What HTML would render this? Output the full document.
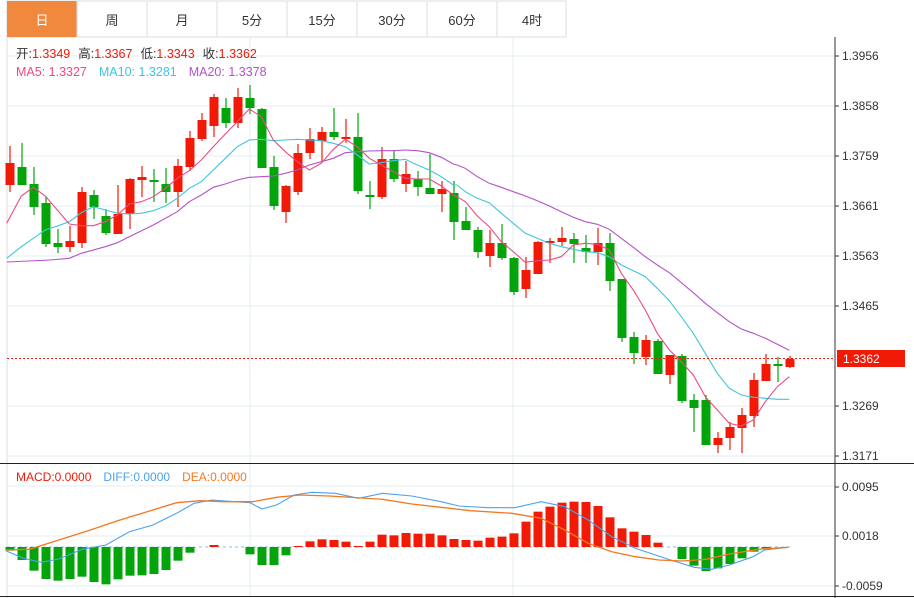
<!DOCTYPE html>
<html><head><meta charset="utf-8"><style>
html,body{margin:0;padding:0;background:#fff;width:914px;height:598px;overflow:hidden;font-family:"Liberation Sans","Noto Sans CJK SC",sans-serif}
svg{position:absolute;left:0;top:0}
</style></head><body>
<svg id="s" width="914" height="598" xmlns="http://www.w3.org/2000/svg" font-family="Liberation Sans, Noto Sans CJK SC, sans-serif"></svg>
<script>
const s=document.getElementById('s');let h='';
// tabs
h+='<rect x="7" y="1" width="559" height="36" fill="#fff" stroke="#ddd"/>';
const tabs=['日','周','月','5分','15分','30分','60分','4时'];
tabs.forEach((t,i)=>{const x=7+i*70;
 if(i==0)h+=`<rect x="7" y="1" width="70" height="36" fill="#f0883e"/>`;
 else h+=`<line x1="${x}" y1="1" x2="${x}" y2="37" stroke="#ddd"/>`;
 h+=`<text x="${x+35}" y="25" font-size="13" text-anchor="middle" fill="${i==0?'#fff':'#333'}">${t}</text>`;});
h+='<line x1="7" y1="37" x2="7" y2="598" stroke="#ddd"/>';
// grid
[56,106,156,206,256,306,356,406,456,486,536,586].forEach(y=>h+=`<line x1="7" y1="${y}" x2="835" y2="${y}" stroke="#e3ecf3"/>`);
[250,513].forEach(x=>h+=`<line x1="${x}" y1="37" x2="${x}" y2="596" stroke="#e3ecf3"/>`);
h+='<line x1="835" y1="37" x2="835" y2="598" stroke="#333"/>';
h+='<line x1="0" y1="463.5" x2="914" y2="463.5" stroke="#222"/><line x1="0" y1="596.5" x2="914" y2="596.5" stroke="#222"/>';
[['1.3956',56],['1.3858',106],['1.3759',156],['1.3661',206],['1.3563',256],['1.3465',306],['1.3269',406],['1.3171',456],['0.0095',487],['0.0018',536],['-0.0059',586]].forEach(([t,y])=>{
 h+=`<line x1="835" y1="${y}" x2="839" y2="${y}" stroke="#333"/><text x="842" y="${y+4}" font-size="12" fill="#333">${t}</text>`;});
// candles [open?] as [bodyTop,bodyBot,wickTop,wickBot,red]
const C=[[163,185,146,192,1],[167,185,143,185,0],[184,207,167,215,0],[203,244,197,247,0],[243,247,229,253,0],[241,247,226,252,1],[192,243,187,248,1],[195,207,190,219,0],[216,233,209,235,0],[214,234,185,234,1],[179,214,178,229,1],[177,180,166,197,1],[180,182,169,202,0],[184,192,168,203,0],[166,192,159,207,1],[138,167,131,171,1],[120,139,113,141,1],[97,126,94,137,1],[108,123,98,128,0],[97,123,88,128,1],[98,108,85,114,0],[109,168,108,168,0],[167,206,156,210,0],[186,212,185,223,1],[153,192,144,195,1],[139,153,128,159,1],[132,141,127,162,1],[132,137,108,140,0],[137,139,119,143,1],[137,191,113,194,0],[195,197,181,209,0],[159,197,147,199,1],[159,179,151,182,0],[174,184,161,192,1],[179,187,171,196,0],[188,194,154,194,0],[189,194,181,212,1],[193,222,181,240,0],[221,230,207,230,0],[230,252,227,258,0],[243,256,230,267,1],[243,258,224,260,0],[258,292,257,295,0],[270,289,257,298,1],[242,274,241,274,1],[241,243,238,263,1],[238,242,227,246,1],[239,244,233,263,0],[248,252,235,263,0],[243,252,228,265,1],[243,281,233,291,0],[279,338,279,342,0],[337,353,332,364,0],[340,357,335,365,1],[341,374,339,374,0],[355,375,355,384,1],[356,401,354,403,0],[400,408,394,432,0],[400,445,395,445,0],[438,445,432,453,1],[427,438,422,450,1],[415,428,408,453,1],[380,416,373,427,1],[364,381,354,381,1],[364,366,357,382,0],[359,367,356,368,1]];
C.forEach((c,i)=>{const x=10+12*i,col=c[4]?'#f01a06':'#02a40a';
 h+=`<line x1="${x}" y1="${c[2]}" x2="${x}" y2="${c[3]}" stroke="${col}" stroke-width="1.2"/>`;
 h+=`<rect x="${x-4.5}" y="${c[0]}" width="9" height="${Math.max(1.5,c[1]-c[0])}" fill="${col}"/>`;});
function pl(pts,fx,fy,col,w){return `<polyline fill="none" stroke="${col}" stroke-width="${w||1.1}" points="${pts.map(p=>fx(p[0]).toFixed(1)+','+fy(p[1]).toFixed(1)).join(' ')}"/>`;}
const a=x=>x/3,b=y=>80+y/3,c3=x=>457+x/3,d=y=>130+y/3;
const ma5a=[[20,430],[64,348],[100,322],[136,348],[172,390],[208,432],[244,437],[280,437],[316,425],[352,405],[388,372],[424,365],[460,350],[496,325],[532,295],[568,272],[604,240],[640,200],[676,162],[712,125],[748,87],[784,110],[820,180],[856,215],[892,245],[928,270],[964,250],[1000,208],[1036,178],[1072,200],[1108,235],[1144,255],[1180,275],[1216,295],[1252,297],[1288,297],[1324,318],[1360,345]];
const ma5b=[[0,200],[25,215],[61,258],[97,290],[133,335],[169,365],[205,397],[241,392],[277,390],[313,380],[349,345],[385,340],[421,343],[457,360],[493,430],[529,480],[565,540],[601,610],[637,660],[673,695],[709,735],[745,800],[781,840],[817,880],[853,888],[889,870],[925,815],[961,770],[997,740]];
const ma10a=[[20,535],[64,500],[100,475],[136,450],[172,438],[208,425],[244,398],[280,380],[316,390],[352,400],[388,402],[424,400],[460,392],[496,378],[532,355],[568,325],[604,305],[640,270],[676,235],[712,200],[748,180],[784,178],[820,182],[856,180],[892,178],[928,180],[964,182],[1000,190],[1036,200],[1072,225],[1108,252],[1144,248],[1180,242],[1216,238],[1252,255],[1288,270],[1324,290],[1360,315]];
const ma10b=[[0,165],[25,185],[61,205],[97,218],[133,250],[169,280],[205,310],[241,325],[277,340],[313,350],[349,358],[385,365],[421,368],[457,380],[493,405],[529,422],[565,440],[601,475],[637,512],[673,560],[709,610],[745,670],[781,730],[817,775],[853,795],[889,802],[925,805],[961,808],[997,808]];
const ma20a=[[21,546],[150,540],[208,535],[244,520],[316,500],[352,488],[388,470],[460,435],[532,395],[568,365],[604,345],[640,322],[676,312],[712,300],[748,292],[784,290],[820,288],[856,280],[892,270],[928,255],[964,245],[1000,235],[1036,218],[1072,215],[1108,213],[1144,212],[1180,212],[1216,210],[1252,212],[1288,218],[1324,232],[1360,252]];
const ma20b=[[0,105],[25,115],[61,140],[97,160],[133,172],[169,185],[205,198],[241,212],[277,228],[313,245],[349,262],[385,275],[421,283],[457,298],[493,325],[529,352],[565,380],[601,405],[637,428],[673,458],[709,488],[745,520],[781,548],[817,575],[853,597],[889,610],[925,625],[961,643],[997,661]];
const j=(A,B)=>A.map(p=>[a(p[0]),b(p[1])]).concat(B.map(p=>[c3(p[0]),d(p[1])]));
const id=v=>v;
h+=pl(j(ma20a,ma20b),id,id,'#b552c8');
h+=pl(j(ma10a,ma10b),id,id,'#3fc6dc');
h+=pl([[7,223]].concat(j(ma5a,ma5b)),id,id,'#ec4a80');
// current price
h+='<line x1="7" y1="358.5" x2="835" y2="358.5" stroke="#f01a06" stroke-dasharray="2,2"/>';
h+='<rect x="837" y="350" width="68" height="17" fill="#f01a06"/><text x="843" y="363" font-size="12" fill="#fff">1.3362</text>';
// legend
h+='<text x="16" y="58" font-size="12.5"><tspan fill="#333">开:</tspan><tspan fill="#f01a06">1.3349</tspan><tspan fill="#333" dx="8">高:</tspan><tspan fill="#f01a06">1.3367</tspan><tspan fill="#333" dx="8">低:</tspan><tspan fill="#f01a06">1.3343</tspan><tspan fill="#333" dx="8">收:</tspan><tspan fill="#f01a06">1.3362</tspan></text>';
h+='<text x="16" y="76" font-size="12.5"><tspan fill="#ec4a80">MA5: 1.3327</tspan><tspan fill="#3fc6dc" dx="12">MA10: 1.3281</tspan><tspan fill="#b552c8" dx="12">MA20: 1.3378</tspan></text>';
// MACD
h+='<line x1="7" y1="547" x2="790" y2="547" stroke="#7fc6e0" stroke-dasharray="3,3"/>';
const M=[272,300,332,357,362,357,350,366,373,358,347,346,342,330,302,278,262,255,262,262,283,315,315,286,258,244,238,240,245,258,245,224,226,219,221,221,226,237,240,242,233,230,220,185,155,140,128,125,126,138,172,205,215,225,248,262,297,317,333,325,312,295,275,265,263,262];
M.forEach((v,i)=>{const x=10+12*i,y=460+v/3,z=547;if(Math.abs(y-z)<0.8)return;
 const up=y<z;h+=`<rect x="${x-4.5}" y="${up?y:z}" width="9" height="${Math.abs(y-z)}" fill="${up?'#f01a06':'#02a40a'}"/>`;});
const diff=[[10,272],[40,295],[70,307],[100,297],[140,268],[180,255],[220,215],[260,195],[300,160],[330,130],[360,120],[400,125],[425,128],[445,147],[470,135],[500,105],[530,97],[570,100],[610,115],[650,100],[700,108],[750,125],[780,138],[830,143],[875,143],[920,125],[960,140],[1000,180],[1040,230],[1080,265],[1140,300],[1180,322],[1210,328],[1240,315],[1280,290],[1300,270],[1340,262]];
const dea=[[10,270],[50,268],[100,240],[150,212],[200,182],[250,155],[300,128],[340,122],[380,125],[430,125],[470,112],[510,105],[560,108],[650,118],[700,132],[750,142],[800,152],[870,160],[920,175],[960,210],[1000,250],[1040,275],[1080,290],[1120,300],[1160,303],[1200,298],[1240,282],[1290,268],[1340,262]];
h+=pl(diff,x=>x/1.7,y=>460+y/3,'#4aa3f0');
h+=pl(dea,x=>x/1.7,y=>460+y/3,'#f5781e',1.3);
h+='<text x="16" y="481" font-size="12"><tspan fill="#f01a06">MACD:0.0000</tspan><tspan fill="#4aa3f0" dx="12">DIFF:0.0000</tspan><tspan fill="#f5781e" dx="12">DEA:0.0000</tspan></text>';
s.innerHTML=h;
</script>
</body></html>
